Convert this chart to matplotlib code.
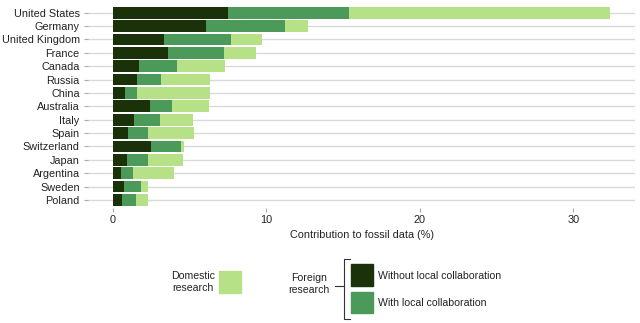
import numpy as np
import matplotlib
matplotlib.use("Agg")
import matplotlib.pyplot as plt
from matplotlib.patches import Rectangle
from matplotlib.lines import Line2D

plt.rcParams['font.family'] = ['Liberation Sans', 'DejaVu Sans']

countries = ['United States', 'Germany', 'United Kingdom', 'France', 'Canada', 'Russia',
             'China', 'Australia', 'Italy', 'Spain', 'Switzerland', 'Japan', 'Argentina',
             'Sweden', 'Poland']
# segment widths (%)
without_local = [7.5, 6.1, 3.3, 3.6, 1.7, 1.6, 0.8, 2.45, 1.4, 1.0, 2.5, 0.9, 0.55, 0.75, 0.6]
with_local = [7.9, 5.1, 4.4, 3.65, 2.5, 1.55, 0.75, 1.4, 1.65, 1.3, 1.95, 1.4, 0.75, 1.1, 0.9]
domestic = [17.0, 1.5, 2.0, 2.05, 3.1, 3.2, 4.8, 2.4, 2.2, 3.0, 0.2, 2.25, 2.7, 0.45, 0.8]

c_dark = '#1b3109'
c_mid = '#4c9a59'
c_light = '#b7e187'
grey = '#d9d9d9'

W, H = 640, 323
fig = plt.figure(figsize=(6.4, 3.23), dpi=100)
ax = fig.add_axes([88 / W, 1 - 208 / H, (635 - 88) / W, (208 - 4.7) / H])

y = np.arange(len(countries))
wl = np.array(without_local)
wc = np.array(with_local)
dm = np.array(domestic)

for yy in y:
    ax.axhline(yy, color=grey, lw=1.0, zorder=0)

ax.barh(y, wl, height=0.88, color=c_dark, zorder=2)
ax.barh(y, wc, left=wl, height=0.88, color=c_mid, zorder=2)
ax.barh(y, dm, left=wl + wc, height=0.88, color=c_light, zorder=2)

fs_ax = 7.8
ax.set_xlim(-1.62, 34.02)
ax.set_ylim(len(countries) - 0.4, -0.6)
ax.set_yticks(y)
ax.set_yticklabels(countries, fontsize=fs_ax, color='#222222')
ax.set_xticks([0, 10, 20, 30])
ax.tick_params(axis='y', length=3, color='#aaaaaa', pad=3)
ax.tick_params(axis='x', length=3, color='#aaaaaa', labelsize=fs_ax, labelcolor='#222222', pad=2)
for s in ax.spines.values():
    s.set_visible(False)
ax.set_xlabel('Contribution to fossil data (%)', fontsize=fs_ax, color='#222222', labelpad=4)

# legend
def px(x, yv):
    return x / W, 1 - yv / H

def square(x0, y0, x1, y1, col):
    fx, fy = px(x0, y1)
    fig.patches.append(Rectangle((fx, fy), (x1 - x0) / W, (y1 - y0) / H,
                                 transform=fig.transFigure, color=col))

fs = 7.6
fig.text(*px(193, 282), 'Domestic\nresearch', fontsize=fs, ha='center', va='center',
         color='#222222', linespacing=1.3)
square(219, 271, 241, 293, c_light)

fig.text(*px(309, 284), 'Foreign\nresearch', fontsize=fs, ha='center', va='center',
         color='#222222', linespacing=1.3)
bx = [x / W for x in [350, 343.5, 343.5, 350]]
by = [1 - v / H for v in [259, 259, 319, 319]]
fig.lines.append(Line2D(bx, by, transform=fig.transFigure, color='#333333', lw=0.8))
fig.lines.append(Line2D([335 / W, 343.5 / W], [1 - 286 / H, 1 - 286 / H],
                        transform=fig.transFigure, color='#333333', lw=0.8))

square(351, 264, 373, 286, c_dark)
square(351, 292, 373, 313, c_mid)
fig.text(*px(378, 276), 'Without local collaboration', fontsize=fs, ha='left', va='center',
         color='#222222')
fig.text(*px(378, 303), 'With local collaboration', fontsize=fs, ha='left', va='center',
         color='#222222')

fig.savefig('out.png', dpi=100)
